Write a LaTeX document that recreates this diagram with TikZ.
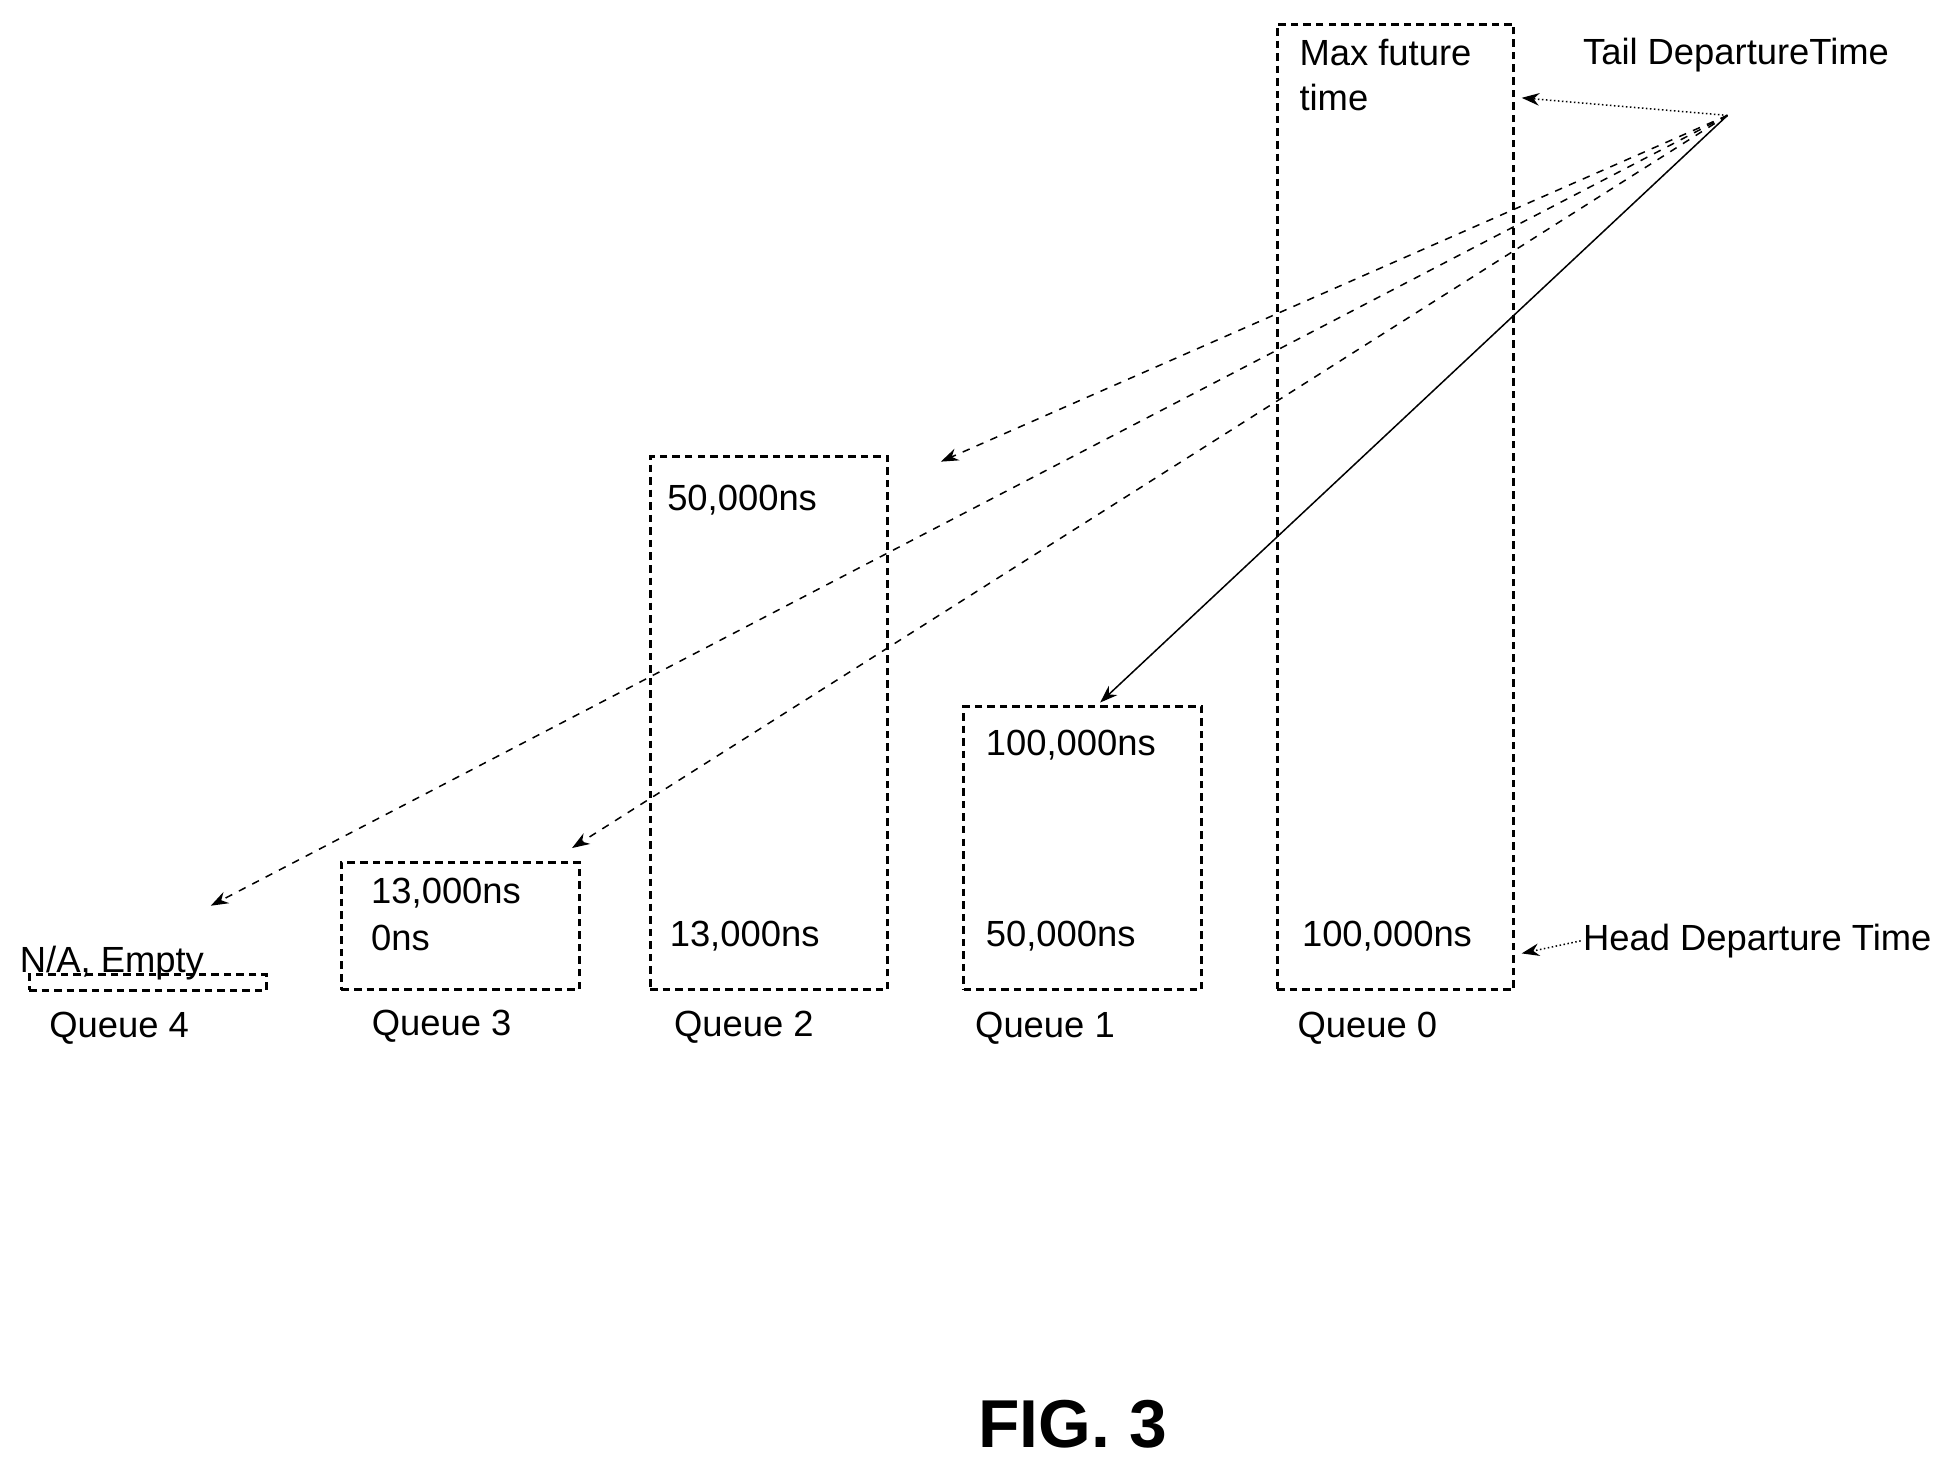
\documentclass[tikz,border=0pt]{standalone}
\usepackage{fontspec}
\setmainfont{Liberation Sans}
\usetikzlibrary{arrows.meta}
\tikzset{
  queue/.style={draw, densely dashed, line width=1.2pt, inner sep=0pt, anchor=north west},
  lbl/.style={anchor=west, inner sep=0.75pt, font=\fontsize{14.5}{17}\selectfont},
  ptr/.style={-{Stealth[length=7pt,width=5pt]}, line width=0.6pt}
}
\begin{document}
\begin{tikzpicture}[x=0.5pt,y=0.5pt,yscale=-1,xscale=1]
\useasboundingbox (0,0) rectangle (1560,1166);

% Queue boxes
\node [queue, minimum width=94.8pt, minimum height=6pt] (q4) at (22,776) {};
\node [queue, minimum width=94.8pt, minimum height=50.8pt] (q3) at (271,686) {};
\node [queue, minimum width=94.8pt, minimum height=212.3pt] (q2) at (517,363) {};
\node [queue, minimum width=94.8pt, minimum height=112.8pt] (q1) at (767,562) {};
\node [queue, minimum width=94.3pt, minimum height=384.8pt] (q0) at (1017,18) {};

% Text Nodes
\draw (14,768) node [lbl] (t4) {N/A, Empty};
\draw (294,712) node [lbl] (t3a) {13,000ns};
\draw (294,748) node [lbl] (t3b) {0ns};
\draw (530,399) node [lbl] (t2a) {50,000ns};
\draw (532,746) node [lbl] (t2b) {13,000ns};
\draw (784,594) node [lbl] (t1a) {100,000ns};
\draw (784,746) node [lbl] (t1b) {50,000ns};
\draw (1034,42) node [lbl] (t0a) {Max future};
\draw (1034,78) node [lbl] (t0b) {time};
\draw (1036,746) node [lbl] (t0c) {100,000ns};

\draw (95,820) node [lbl, anchor=center] (n4) {Queue 4};
\draw (352,818) node [lbl, anchor=center] (n3) {Queue 3};
\draw (593,819) node [lbl, anchor=center] (n2) {Queue 2};
\draw (833,820) node [lbl, anchor=center] (n1) {Queue 1};
\draw (1090,820) node [lbl, anchor=center] (n0) {Queue 0};

\draw (1260,44) node [lbl] (tail) {Tail DepartureTime};
\draw (1260,750) node [lbl] (head) {Head Departure Time};
\draw (855,1135) node [font=\bfseries\fontsize{27}{31}\selectfont] (fig) {FIG. 3};

% Pointers
\coordinate (src) at (1377,92);
\coordinate (e0) at (1213,78);
\coordinate (e2) at (750,368);
\coordinate (e4) at (168,722);
\coordinate (e3) at (456,676);
\coordinate (e1) at (877,560);
\coordinate (eh) at (1213,760);
\draw [ptr, densely dotted] (src) -- (e0);
\draw [ptr, dashed] (src) -- (e2);
\draw [ptr, dashed] (src) -- (e4);
\draw [ptr, dashed] (src) -- (e3);
\draw [ptr] (src) -- (e1);
\draw [ptr, densely dotted] (head.west) -- (eh);

\end{tikzpicture}
\end{document}
